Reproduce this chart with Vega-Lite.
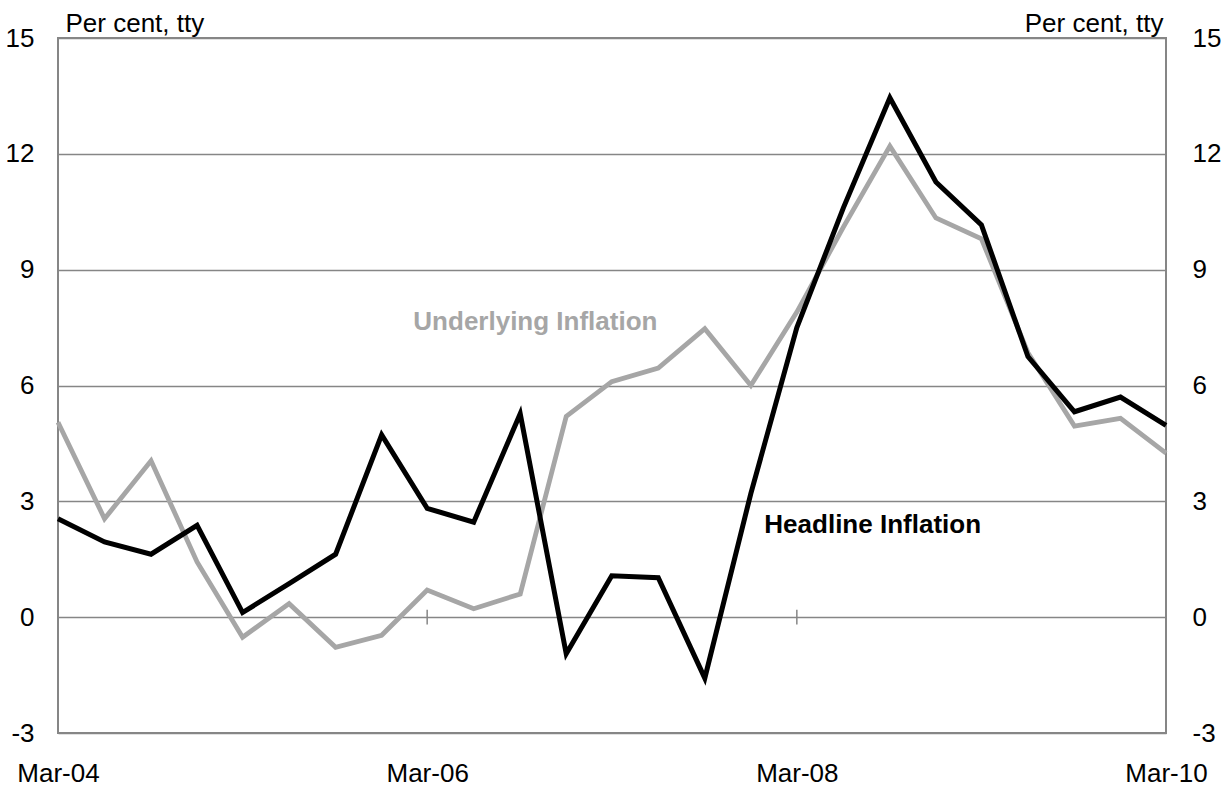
{
  "$schema": "https://vega.github.io/schema/vega-lite/v6.json",
  "width": 1108,
  "height": 695,
  "autosize": {"type": "none"},
  "padding": {"left": 58, "top": 38, "right": 65, "bottom": 53},
  "background": "white",
  "config": {
    "font": "Liberation Sans",
    "view": {"stroke": "#868686", "strokeWidth": 2},
    "axis": {
      "labelFont": "Liberation Sans",
      "labelFontSize": 26,
      "labelColor": "#000000",
      "titleFont": "Liberation Sans",
      "titleFontSize": 26,
      "titleFontWeight": "normal",
      "titleColor": "#000000",
      "domain": false,
      "ticks": false
    }
  },
  "datasets": {
    "inflation": [
      {"date": "2004-03-01", "headline": 2.55, "underlying": 5.05},
      {"date": "2004-06-01", "headline": 1.95, "underlying": 2.55},
      {"date": "2004-09-01", "headline": 1.63, "underlying": 4.05},
      {"date": "2004-12-01", "headline": 2.38, "underlying": 1.43},
      {"date": "2005-03-01", "headline": 0.12, "underlying": -0.52},
      {"date": "2005-06-01", "headline": 0.87, "underlying": 0.35},
      {"date": "2005-09-01", "headline": 1.63, "underlying": -0.78},
      {"date": "2005-12-01", "headline": 4.72, "underlying": -0.47},
      {"date": "2006-03-01", "headline": 2.82, "underlying": 0.7},
      {"date": "2006-06-01", "headline": 2.46, "underlying": 0.22},
      {"date": "2006-09-01", "headline": 5.27, "underlying": 0.6},
      {"date": "2006-12-01", "headline": -0.95, "underlying": 5.2},
      {"date": "2007-03-01", "headline": 1.07, "underlying": 6.1},
      {"date": "2007-06-01", "headline": 1.02, "underlying": 6.45},
      {"date": "2007-09-01", "headline": -1.58, "underlying": 7.47},
      {"date": "2007-12-01", "headline": 3.2, "underlying": 6.0},
      {"date": "2008-03-01", "headline": 7.5, "underlying": 7.9},
      {"date": "2008-06-01", "headline": 10.6, "underlying": 10.1},
      {"date": "2008-09-01", "headline": 13.45, "underlying": 12.2},
      {"date": "2008-12-01", "headline": 11.27, "underlying": 10.34},
      {"date": "2009-03-01", "headline": 10.16, "underlying": 9.8},
      {"date": "2009-06-01", "headline": 6.75, "underlying": 6.85},
      {"date": "2009-09-01", "headline": 5.32, "underlying": 4.95},
      {"date": "2009-12-01", "headline": 5.7, "underlying": 5.15},
      {"date": "2010-03-01", "headline": 4.97, "underlying": 4.25}
    ],
    "labels": [
      {"date": "2006-10-01", "value": 7.44, "label": "Underlying Inflation"},
      {"date": "2008-07-29", "value": 2.18, "label": "Headline Inflation"}
    ],
    "ticks": [
      {"date": "2006-03-01"},
      {"date": "2008-03-01"}
    ]
  },
  "encoding": {
    "x": {
      "field": "date",
      "type": "temporal",
      "scale": {
        "type": "utc",
        "domain": [
          {"year": 2004, "month": 3, "date": 1, "utc": true},
          {"year": 2010, "month": 3, "date": 1, "utc": true}
        ]
      },
      "axis": {
        "title": null,
        "grid": false,
        "format": "%b-%y",
        "labelFlush": false,
        "labelBaseline": "alphabetic",
        "labelPadding": 48,
        "values": [
          {"year": 2004, "month": 3, "date": 1, "utc": true},
          {"year": 2006, "month": 3, "date": 1, "utc": true},
          {"year": 2008, "month": 3, "date": 1, "utc": true},
          {"year": 2010, "month": 3, "date": 1, "utc": true}
        ]
      }
    }
  },
  "layer": [
    {
      "data": {"name": "ticks"},
      "mark": {"type": "rule", "color": "#868686", "strokeWidth": 1.5},
      "encoding": {
        "y": {"datum": -0.19, "type": "quantitative", "scale": {"domain": [-3, 15], "nice": false, "zero": false}, "axis": null},
        "y2": {"datum": 0.19}
      }
    },
    {
      "data": {"name": "inflation"},
      "mark": {"type": "line", "color": "#a6a6a6", "strokeWidth": 4.8, "strokeJoin": "miter"},
      "encoding": {
        "y": {
          "field": "underlying",
          "type": "quantitative",
          "scale": {"domain": [-3, 15], "nice": false, "zero": false},
          "axis": {
            "orient": "left",
            "values": [-3, 0, 3, 6, 9, 12, 15],
            "labelExpr": "datum.value + ''",
            "grid": true,
            "gridColor": "#868686",
            "gridWidth": 1.5,
            "gridOpacity": 1,
            "labelPadding": 24,
            "title": "Per cent, tty",
            "titleAngle": 0,
            "titleAlign": "left",
            "titleBaseline": "alphabetic",
            "titleX": 7,
            "titleY": -7
          }
        }
      }
    },
    {
      "data": {"name": "inflation"},
      "mark": {"type": "line", "color": "#000000", "strokeWidth": 5, "strokeJoin": "miter"},
      "encoding": {
        "y": {
          "field": "headline",
          "type": "quantitative",
          "scale": {"domain": [-3, 15], "nice": false, "zero": false},
          "axis": {
            "orient": "right",
            "values": [-3, 0, 3, 6, 9, 12, 15],
            "labelExpr": "datum.value + ''",
            "grid": false,
            "labelPadding": 26,
            "title": "Per cent, tty",
            "titleAngle": 0,
            "titleAlign": "right",
            "titleBaseline": "alphabetic",
            "titleX": -3,
            "titleY": -7
          }
        }
      }
    },
    {
      "data": {"name": "labels"},
      "mark": {"type": "text", "fontSize": 26, "fontWeight": "bold", "align": "center", "baseline": "alphabetic"},
      "encoding": {
        "y": {"field": "value", "type": "quantitative", "scale": {"domain": [-3, 15], "nice": false, "zero": false}, "axis": null},
        "text": {"field": "label"},
        "color": {
          "field": "label",
          "type": "nominal",
          "scale": {"domain": ["Underlying Inflation", "Headline Inflation"], "range": ["#a6a6a6", "#000000"]},
          "legend": null
        }
      }
    }
  ],
  "resolve": {"axis": {"y": "independent"}}
}
